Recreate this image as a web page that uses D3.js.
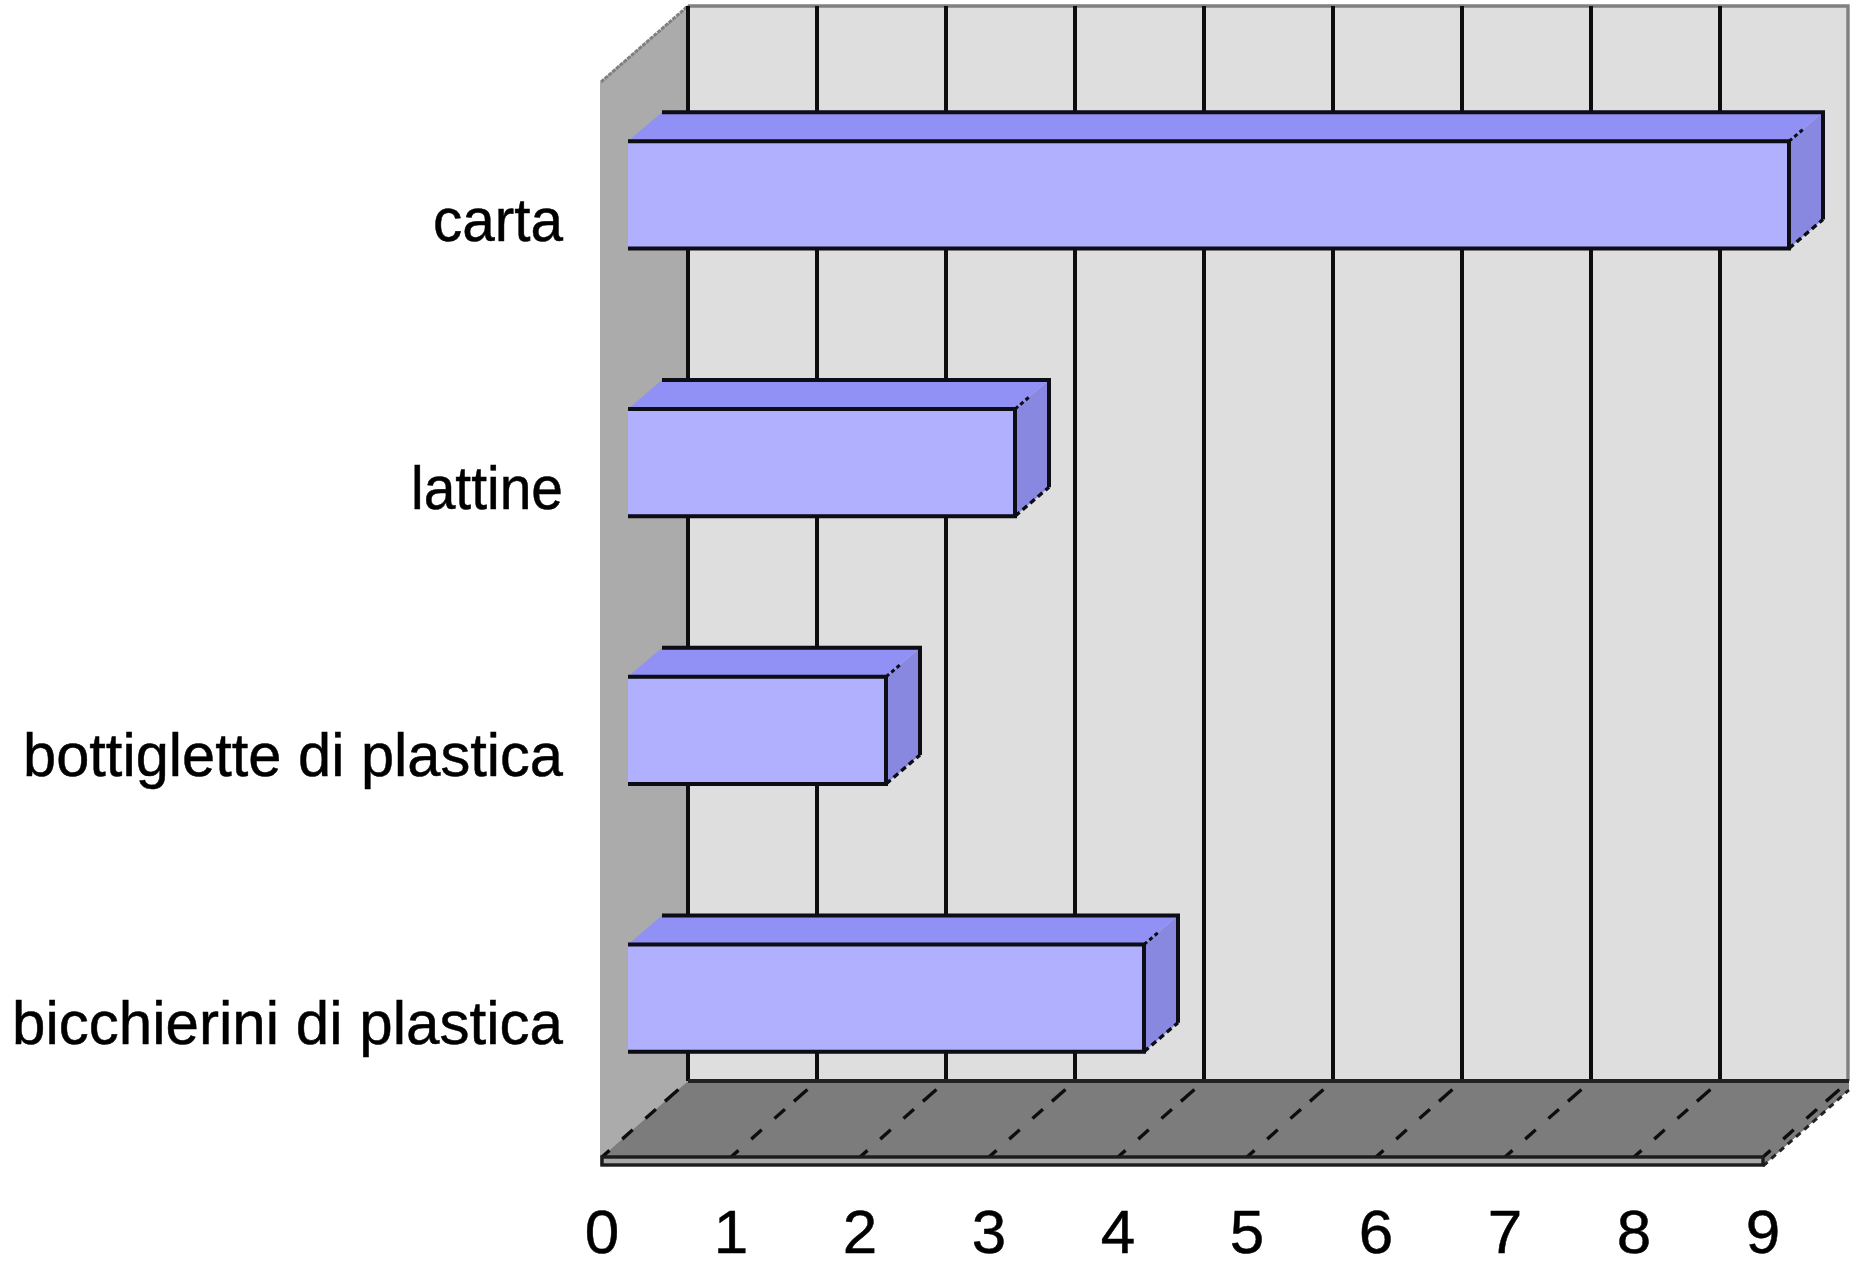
<!DOCTYPE html>
<html><head><meta charset="utf-8">
<script src="https://cdn.jsdelivr.net/npm/d3@7"></script>
<style>html,body{margin:0;padding:0;background:#fff}svg{display:block}text{font-family:"Liberation Sans",Arial,sans-serif;fill:#000;stroke:#000;stroke-width:0.5}</style>
</head><body><svg id="c" width="1851" height="1261"></svg>
<script>
const categories = ["carta","lattine","bottiglette di plastica","bicchierini di plastica"];
const values = [9,3,2,4];
const ticks = [0,1,2,3,4,5,6,7,8,9];
const labelWidths = [130,152,540,551];

const svg = d3.select("#c");
const defs = svg.append("defs");
defs.append("filter").attr("id","soft").append("feGaussianBlur").attr("stdDeviation",0.6);
const g = svg.append("g").attr("filter","url(#soft)");

const x = d3.scaleLinear().domain([0,9]).range([602,1763]);
const y = d3.scaleBand().domain(categories).range([61,1132]).paddingInner(0.6).paddingOuter(0.3);
const DX = 86, DY = 76, floorY = 1157, topY = 82;
const BAR_OFF = 26, BDX = 34, BDY = 29;
const pts = a => a.map(p=>p.join(",")).join(" ");

// back wall
g.append("rect").attr("x",x(0)+DX).attr("y",topY-DY).attr("width",x(9)-x(0)).attr("height",floorY-topY)
 .attr("fill","#dedede");
g.append("polyline").attr("points",pts([[x(0)+DX,topY-DY],[x(9)+DX-1,topY-DY],[x(9)+DX-1,floorY-DY]]))
 .attr("fill","none").attr("stroke","#808080").attr("stroke-width",3.4);
// left wall
g.append("polygon").attr("points",pts([[x(0)-2,topY],[x(0)+DX,topY-DY],[x(0)+DX,floorY-DY],[x(0)-2,floorY+9]]))
 .attr("fill","#ababab");
g.append("line").attr("x1",x(0)-1).attr("y1",topY).attr("x2",x(0)+DX).attr("y2",topY-DY)
 .attr("stroke","#808080").attr("stroke-width",3).attr("stroke-dasharray","4 1");
// back gridlines
g.selectAll(".grid").data(ticks.slice(0,9)).join("line")
 .attr("x1",d=>x(d)+DX).attr("x2",d=>x(d)+DX).attr("y1",topY-DY).attr("y2",floorY-DY)
 .attr("stroke","#111").attr("stroke-width",4);
// floor
g.append("polygon").attr("points",pts([[x(0),floorY],[x(0)+DX,floorY-DY],[x(9)+DX,floorY-DY],[x(9)+DX,floorY-DY+9],[x(9),floorY+9]]))
 .attr("fill","#7c7c7c");
g.append("line").attr("x1",x(0)+DX).attr("x2",x(9)+DX).attr("y1",floorY-DY).attr("y2",floorY-DY)
 .attr("stroke","#222").attr("stroke-width",4);
// floor dashed lines
g.selectAll(".fd").data(ticks).join("line")
 .attr("x1",d=>x(d)).attr("y1",floorY).attr("x2",d=>x(d)+DX).attr("y2",floorY-DY)
 .attr("stroke","#111").attr("stroke-width",3.4).attr("stroke-dasharray","10 17 14 17 14 12 18 30");
g.append("line").attr("x1",x(9)).attr("y1",floorY+9).attr("x2",x(9)+DX).attr("y2",floorY-DY+9)
 .attr("stroke","#222").attr("stroke-width",3).attr("stroke-dasharray","6 5");
// floor front strip
g.append("rect").attr("x",x(0)).attr("y",floorY).attr("width",x(9)-x(0)).attr("height",8)
 .attr("fill","#a8a8a8").attr("stroke","#1a1a1a").attr("stroke-width",3.4);

// bars
const bar = g.selectAll(".bar").data(categories).join("g");
const L = x(0)+BAR_OFF;
const R = (_,i)=>x(values[i])+BAR_OFF;
const stroke = "#0a0a14";
bar.append("polygon").attr("points",(c,i)=>{const t=y(c),r=R(c,i);return pts([[L,t],[L+BDX,t-BDY],[r+BDX,t-BDY],[r,t]]);})
 .attr("fill","#9090f5");
bar.append("polygon").attr("points",(c,i)=>{const t=y(c),b=t+y.bandwidth(),r=R(c,i);return pts([[r,t],[r+BDX,t-BDY],[r+BDX,b-BDY],[r,b]]);})
 .attr("fill","#8888e0");
bar.append("rect").attr("x",L).attr("y",c=>y(c)).attr("width",(c,i)=>R(c,i)-L).attr("height",y.bandwidth())
 .attr("fill","#b0b0ff");
bar.append("polyline").attr("points",(c,i)=>{const t=y(c),b=t+y.bandwidth(),r=R(c,i);return pts([[L+BDX,t-BDY],[r+BDX,t-BDY],[r+BDX,b-BDY]]);})
 .attr("fill","none").attr("stroke",stroke).attr("stroke-width",4);
bar.append("polyline").attr("points",(c,i)=>{const t=y(c),b=t+y.bandwidth(),r=R(c,i);return pts([[L,t],[r,t],[r,b],[L,b]]);})
 .attr("fill","none").attr("stroke",stroke).attr("stroke-width",4);
bar.append("line").attr("x1",(c,i)=>R(c,i)).attr("y1",c=>y(c)).attr("x2",(c,i)=>R(c,i)+BDX).attr("y2",c=>y(c)-BDY)
 .attr("stroke",stroke).attr("stroke-width",3).attr("stroke-dasharray","4 3 4 3 4 40");
bar.append("line").attr("x1",(c,i)=>R(c,i)).attr("y1",c=>y(c)+y.bandwidth()).attr("x2",(c,i)=>R(c,i)+BDX).attr("y2",c=>y(c)+y.bandwidth()-BDY)
 .attr("stroke",stroke).attr("stroke-width",3.4).attr("stroke-dasharray","6 4");

// labels
svg.selectAll(".cat").data(categories).join("text")
 .attr("x",563).attr("y",c=>y(c)+y.bandwidth()/2+46).attr("text-anchor","end")
 .attr("font-size",62).attr("textLength",(c,i)=>labelWidths[i]).attr("lengthAdjust","spacingAndGlyphs").text(c=>c);
svg.selectAll(".tick").data(ticks).join("text")
 .attr("x",d=>x(d)).attr("y",1253).attr("text-anchor","middle")
 .attr("font-size",62).text(d=>d);
</script></body></html>
